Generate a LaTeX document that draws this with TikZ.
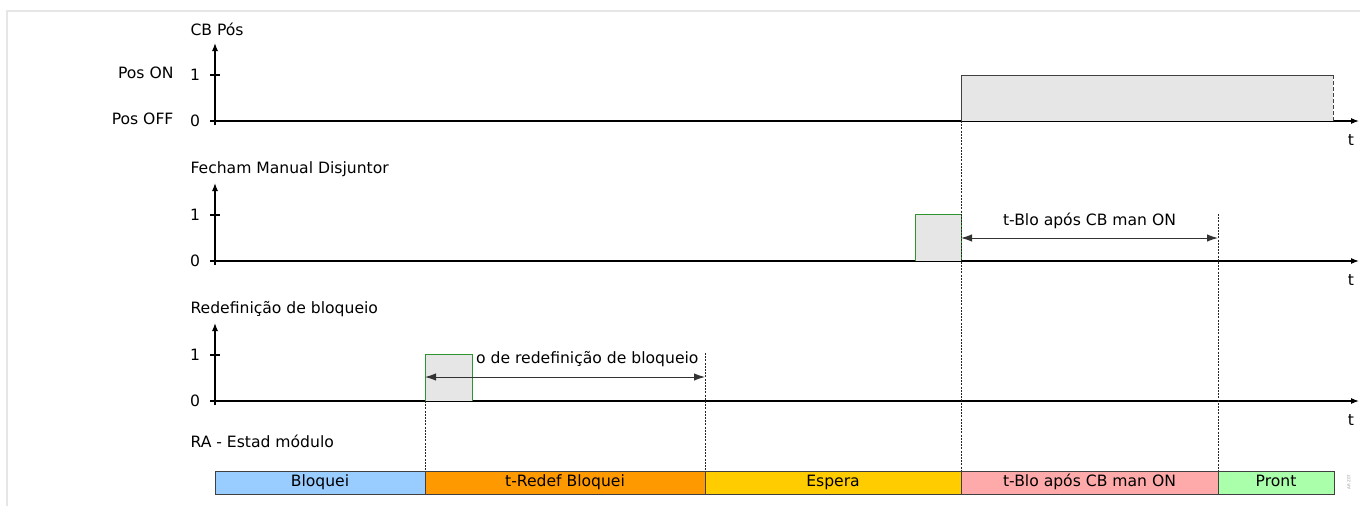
\documentclass[tikz,border=0pt]{standalone}
\usepackage{fontspec}
\setmainfont{DejaVu Sans}
\usepackage{xcolor}
\usetikzlibrary{arrows.meta}

\definecolor{framegray}{HTML}{E6E6E6}
\definecolor{sigfill}{HTML}{E6E6E6}
\definecolor{pulsegreen}{HTML}{2E942E}
\definecolor{stBlue}{HTML}{99CCFF}
\definecolor{stOrange}{HTML}{FF9900}
\definecolor{stYellow}{HTML}{FFCC00}
\definecolor{stPink}{HTML}{FFAAAA}
\definecolor{stGreen}{HTML}{AAFFAA}

\begin{document}
\begin{tikzpicture}[x=1pt, y=-1pt, font=\fontsize{15.6}{18}\selectfont,
  >={Latex[length=8pt,width=6pt]},
  axis/.style={line width=1.2pt},
  guide/.style={dash pattern=on 2pt off 1.2pt, line width=0.7pt, black!85},
  pulse/.style={draw=pulsegreen, line width=0.9pt},
  span/.style={{Latex[length=11pt,width=7.5pt]}-{Latex[length=11pt,width=7.5pt]},
    line width=1pt, black!80},
  stateseg/.style={draw=black!75, line width=0.8pt, minimum height=23pt,
    inner sep=0pt, outer sep=0pt, text height=11pt, text depth=3pt,
    anchor=north west}]

  \useasboundingbox (0,0) rectangle (1360,506);

  % Rahmen
  \draw[framegray, line width=2pt] (7,506) -- (7,11) -- (1360,11);

  % Achsen der drei Signale
  \foreach \i/\yz/\title in {1/121/CB Pós, 2/261/Fecham Manual Disjuntor,
                             3/401/Redefinição de bloqueio}{
    \coordinate (o\i) at (215,\yz);
    \draw[axis,->] (215,\yz+4) -- (215,\yz-78);
    \draw[axis,->] (210,\yz) -- (1359,\yz);
    \draw[axis] (210,\yz-46) -- (220,\yz-46);
    \node (zero\i) at (195,\yz) {0};
    \node (one\i) at (195,\yz-46) {1};
    \node[anchor=west] (title\i) at (187,\yz-92) {\title};
    \node (t\i) at (1351,\yz+19) {t};
  }
  \node[anchor=east] (posOn) at (177,73) {Pos ON};
  \node[anchor=east] (posOff) at (177,119) {Pos OFF};

  % CB Pós
  \fill[sigfill] (961,75) rectangle (1333,121);
  \draw[line width=0.9pt, black!75] (961,121) -- (961,75) -- (1333,75);
  \draw[line width=0.9pt, black!75, dash pattern=on 4pt off 2pt] (1333,75) -- (1333,121);
  \coordinate (cbOn) at (961,121);

  % Fecham Manual Disjuntor
  \fill[sigfill] (915,214) rectangle (961,261);
  \draw[pulse] (915,261) -- (915,214) -- (961,214) -- (961,261);
  \coordinate (manOn) at (961,238);
  \coordinate (bloEnd) at (1218,238);
  \coordinate (bloTop) at (1218,214);
  \draw[span] (manOn) -- (bloEnd)
    node[midway, above=5pt, text=black] (bloLbl) {t-Blo após CB man ON};

  % Redefinição de bloqueio
  \fill[sigfill] (425,354) rectangle (472,401);
  \draw[pulse] (425,401) -- (425,354) -- (472,354) -- (472,401);
  \coordinate (rstOn) at (425,377);
  \coordinate (rstEnd) at (705,377);
  \coordinate (rstTop) at (705,353);
  \draw[span] (rstOn) -- (rstEnd);
  \node[anchor=east] (rstLbl) at (702,359) {o de redefinição de bloqueio};

  % RA - Estad módulo
  \node[anchor=west] (title4) at (187,441) {RA - Estad módulo};
  \node[stateseg, fill=stBlue, minimum width=210pt] (bloquei) at (215,471) {Bloquei};
  \node[stateseg, fill=stOrange, minimum width=280pt] (redef) at (bloquei.north east) {t-Redef Bloquei};
  \node[stateseg, fill=stYellow, minimum width=256pt] (espera) at (redef.north east) {Espera};
  \node[stateseg, fill=stPink, minimum width=257pt] (tblo) at (espera.north east) {t-Blo após CB man ON};
  \node[stateseg, fill=stGreen, minimum width=116pt] (pront) at (tblo.north east) {Pront};

  % Hilfslinien
  \draw[guide] (425,401) -- (redef.north west);
  \draw[guide] (rstTop) -- (espera.north west);
  \draw[guide] (cbOn) -- (tblo.north west);
  \draw[guide] (bloTop) -- (pront.north west);

  \node[rotate=90, text=black!40, font=\fontsize{4}{5}\selectfont] (code) at (1349,482) {AR Z07};

\end{tikzpicture}
\end{document}
